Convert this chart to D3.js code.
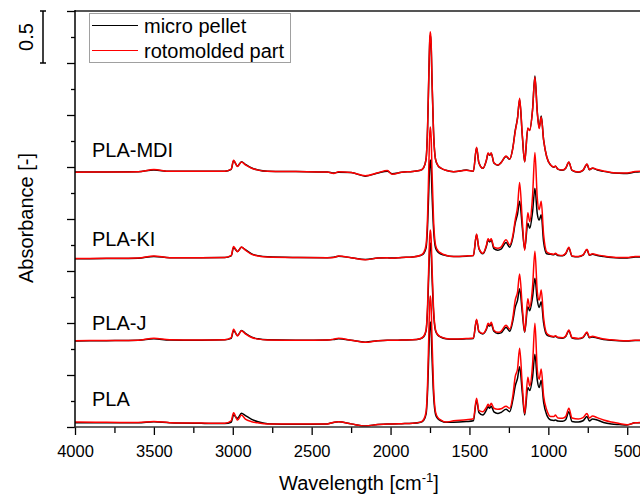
<!DOCTYPE html>
<html><head><meta charset="utf-8">
<script src="https://cdn.jsdelivr.net/npm/d3@7"></script>
<style>
body{margin:0;background:#fff}
svg text{font-family:"Liberation Sans",Arial,sans-serif;fill:#000}
</style>
</head><body>
<svg id="c" width="640" height="497"></svg>
<script>
// wavenumber grid (cm^-1), shared by all spectra
const wavenumbers = [4000,3800,3600,3500,3400,3200,3050,3010,2995,2970,2945,2920,2880,2840,2780,2600,2400,2360,2330,2250,2160,2080,2020,1990,1930,1860,1810,1790,1775,1765,1757,1752,1748,1743,1737,1728,1715,1700,1680,1650,1600,1520,1475,1455,1440,1415,1392,1382,1372,1362,1345,1320,1300,1268,1245,1225,1210,1195,1182,1165,1150,1130,1118,1100,1085,1070,1058,1045,1030,1010,985,965,955,940,910,890,870,850,810,780,755,740,720,690,650,600,550,500,450,400];

const plaPellet = [0.040,0.040,0.040,0.050,0.040, 0.035,0.033,0.045,0.115,0.083, 0.132,0.110,0.074,0.050,0.032, 0.027,0.030,0.044,0.050,0.030, 0.010,0.025,0.030,0.030,0.032, 0.035,0.045,0.064,0.123,0.357, 0.737,0.952,1.010,0.942,0.669, 0.328,0.123,0.079,0.059,0.045, 0.045,0.052,0.060,0.260,0.140, 0.115,0.165,0.195,0.180,0.200, 0.145,0.130,0.140,0.170,0.147, 0.260,0.394,0.470,0.580,0.330, 0.115,0.380,0.350,0.480,0.700, 0.450,0.380,0.450,0.240,0.115, 0.067,0.063,0.067,0.058,0.055, 0.070,0.147,0.053,0.048,0.060, 0.100,0.058,0.077,0.067,0.043, 0.029,0.024,0.020,0.040,0.040];
const plaRoto = [0.048,0.045,0.044,0.052,0.042, 0.038,0.035,0.060,0.137,0.067, 0.115,0.075,0.051,0.040,0.030, 0.028,0.030,0.045,0.050,0.030, 0.010,0.025,0.030,0.030,0.032, 0.035,0.047,0.072,0.145,0.439, 0.917,1.187,1.260,1.174,0.831, 0.403,0.145,0.090,0.066,0.047, 0.060,0.070,0.080,0.276,0.160, 0.147,0.190,0.218,0.200,0.228, 0.180,0.170,0.175,0.200,0.180, 0.300,0.484,0.560,0.757,0.400, 0.130,0.478,0.394,0.600,0.997, 0.550,0.458,0.557,0.300,0.163, 0.100,0.100,0.115,0.087,0.085, 0.100,0.180,0.087,0.077,0.090, 0.130,0.087,0.106,0.090,0.067, 0.048,0.034,0.022,0.040,0.045];
const jPellet = [0.028,0.030,0.033,0.048,0.036, 0.035,0.038,0.052,0.128,0.080, 0.128,0.100,0.064,0.048,0.038, 0.035,0.036,0.042,0.048,0.034, 0.016,0.030,0.035,0.033,0.036, 0.038,0.049,0.068,0.124,0.347, 0.710,0.914,0.970,0.905,0.645, 0.319,0.124,0.082,0.063,0.049, 0.043,0.048,0.052,0.230,0.115, 0.095,0.140,0.180,0.170,0.190, 0.120,0.100,0.105,0.160,0.120, 0.220,0.350,0.420,0.530,0.300, 0.110,0.357,0.318,0.450,0.630, 0.420,0.350,0.405,0.200,0.085, 0.070,0.066,0.072,0.058,0.054, 0.070,0.126,0.056,0.048,0.060, 0.106,0.058,0.066,0.055,0.042, 0.034,0.029,0.027,0.032,0.032];
const jRoto = [0.030,0.032,0.035,0.053,0.038, 0.037,0.040,0.060,0.139,0.075, 0.126,0.095,0.060,0.045,0.037, 0.035,0.036,0.045,0.053,0.035, 0.014,0.030,0.035,0.033,0.036, 0.038,0.051,0.072,0.135,0.388, 0.799,1.031,1.094,1.020,0.725, 0.356,0.135,0.087,0.066,0.051, 0.045,0.050,0.055,0.235,0.120, 0.100,0.150,0.197,0.180,0.207, 0.130,0.110,0.120,0.178,0.142, 0.250,0.420,0.500,0.670,0.350, 0.116,0.433,0.350,0.550,0.890, 0.500,0.420,0.517,0.250,0.100, 0.075,0.070,0.078,0.062,0.058, 0.075,0.133,0.060,0.052,0.065, 0.113,0.063,0.072,0.060,0.046, 0.038,0.032,0.030,0.035,0.035];
const kiPellet = [0.018,0.020,0.023,0.040,0.027, 0.027,0.029,0.045,0.125,0.088, 0.128,0.105,0.065,0.048,0.036, 0.030,0.028,0.032,0.042,0.028, 0.010,0.025,0.028,0.024,0.030, 0.035,0.049,0.068,0.123,0.346, 0.707,0.911,0.967,0.902,0.643, 0.318,0.123,0.082,0.063,0.049, 0.040,0.043,0.048,0.250,0.115, 0.065,0.140,0.200,0.180,0.200, 0.115,0.100,0.110,0.175,0.128, 0.220,0.360,0.450,0.570,0.320, 0.110,0.360,0.310,0.470,0.695, 0.450,0.390,0.440,0.180,0.065, 0.060,0.056,0.065,0.050,0.046, 0.066,0.122,0.042,0.037,0.052, 0.105,0.052,0.060,0.050,0.040, 0.030,0.026,0.026,0.035,0.036];
const kiRoto = [0.020,0.022,0.025,0.045,0.028, 0.028,0.030,0.050,0.135,0.086, 0.130,0.100,0.060,0.045,0.035, 0.030,0.028,0.030,0.045,0.028, 0.008,0.025,0.028,0.022,0.030, 0.035,0.052,0.077,0.152,0.451, 0.936,1.210,1.285,1.198,0.849, 0.414,0.152,0.096,0.071,0.052, 0.040,0.045,0.050,0.256,0.120, 0.070,0.150,0.210,0.190,0.210, 0.130,0.118,0.130,0.200,0.150, 0.240,0.390,0.520,0.750,0.380, 0.100,0.460,0.375,0.620,1.040, 0.600,0.490,0.570,0.250,0.083, 0.065,0.060,0.070,0.055,0.050, 0.070,0.128,0.045,0.040,0.055, 0.110,0.055,0.065,0.055,0.045, 0.035,0.030,0.030,0.040,0.040];
const mdiPellet = [0.052,0.053,0.055,0.072,0.058, 0.058,0.060,0.078,0.160,0.108, 0.150,0.125,0.090,0.072,0.060, 0.056,0.052,0.042,0.050,0.046, 0.012,0.042,0.060,0.035,0.050, 0.057,0.068,0.094,0.173,0.489, 1.002,1.291,1.370,1.278,0.910, 0.450,0.173,0.114,0.088,0.068, 0.055,0.070,0.060,0.285,0.140, 0.087,0.168,0.230,0.212,0.232, 0.138,0.118,0.142,0.200,0.175, 0.285,0.450,0.575,0.750,0.400, 0.150,0.470,0.455,0.650,0.975, 0.630,0.480,0.590,0.360,0.196, 0.118,0.098,0.108,0.080,0.068, 0.088,0.145,0.068,0.050,0.068, 0.126,0.074,0.088,0.072,0.058, 0.045,0.040,0.038,0.052,0.056];
const mdiRoto = [0.050,0.052,0.055,0.075,0.058, 0.058,0.060,0.080,0.165,0.105, 0.148,0.120,0.088,0.070,0.060, 0.056,0.052,0.038,0.055,0.048, 0.015,0.045,0.066,0.030,0.050, 0.057,0.068,0.095,0.176,0.499, 1.023,1.319,1.400,1.306,0.929, 0.459,0.176,0.116,0.089,0.068, 0.055,0.068,0.060,0.290,0.140, 0.087,0.170,0.235,0.215,0.235, 0.140,0.120,0.140,0.205,0.177, 0.280,0.440,0.570,0.760,0.410, 0.150,0.475,0.450,0.650,0.965, 0.620,0.470,0.580,0.360,0.196, 0.120,0.100,0.110,0.080,0.070, 0.090,0.148,0.070,0.052,0.070, 0.130,0.076,0.090,0.076,0.062, 0.047,0.042,0.042,0.057,0.060];

const sampleNames = ["PLA", "PLA-J", "PLA-KI", "PLA-MDI"];
const sampleOffsets = [0, 0.8, 1.6, 2.4];
const legendLabels = ["micro pellet", "rotomolded part"];
const seriesColors = ["#000000", "#ff0000"];
const xMajorTicks = [4000, 3500, 3000, 2500, 2000, 1500, 1000, 500];
const xMinorTicks = [3750, 3250, 2750, 2250, 1750, 1250, 750];
const yMajorTicks = [0, 0.5, 1, 1.5, 2, 2.5, 3, 3.5, 4];
const yMinorTicks = [0.25, 0.75, 1.25, 1.75, 2.25, 2.75, 3.25, 3.75];
const scaleBarValue = 0.5;
const xTitle = "Wavelength [cm";
const yTitle = "Absorbance [-]";

// ---------- layout ----------
const L = 75, R = 643, T = 11, B = 427;
const svg = d3.select("#c");
const x = d3.scaleLinear().domain([4000, 400]).range([L, R]);
const y = d3.scaleLinear().domain([0, 4]).range([B, T]);

svg.append("defs").append("clipPath").attr("id", "clip")
  .append("rect").attr("x", L).attr("y", T).attr("width", 640 - L).attr("height", B - T);

const pellets = [plaPellet, jPellet, kiPellet, mdiPellet];
const rotos = [plaRoto, jRoto, kiRoto, mdiRoto];

const plot = svg.append("g").attr("clip-path", "url(#clip)");
function lineFor(offset) {
  return d3.line()
    .x((d, i) => x(wavenumbers[i]))
    .y(d => y(d + offset))
    .curve(d3.curveMonotoneX);
}
[pellets, rotos].forEach((group, gi) => {
  group.forEach((vals, si) => {
    plot.append("path").datum(vals)
      .attr("d", lineFor(sampleOffsets[si]))
      .attr("fill", "none")
      .attr("stroke", seriesColors[gi])
      .attr("stroke-width", 1.5)
      .attr("stroke-linejoin", "round");
  });
});

// axes
const axFont = g => g.attr("font-family", "Liberation Sans, Arial, sans-serif");
const gxMinor = svg.append("g").attr("transform", `translate(0,${B})`)
  .call(d3.axisBottom(x).tickValues(xMinorTicks).tickSize(6).tickFormat(""));
const gxMajor = svg.append("g").attr("transform", `translate(0,${B})`)
  .call(d3.axisBottom(x).tickValues(xMajorTicks).tickSize(8).tickPadding(10).tickFormat(d3.format("d")))
  .call(axFont);
gxMajor.selectAll("text").attr("font-size", 16.5).attr("fill", "#000");
const gyMinor = svg.append("g").attr("transform", `translate(${L},0)`)
  .call(d3.axisLeft(y).tickValues(yMinorTicks).tickSize(4).tickFormat(""));
const gyMajor = svg.append("g").attr("transform", `translate(${L},0)`)
  .call(d3.axisLeft(y).tickValues(yMajorTicks).tickSize(8).tickFormat(""));
[gxMinor, gxMajor, gyMinor, gyMajor].forEach(g => {
  g.select(".domain").remove();
  g.selectAll(".tick line").attr("stroke", "#000").attr("stroke-width", 1.3);
});

// frame lines
svg.append("line").attr("x1", L).attr("x2", 640).attr("y1", T).attr("y2", T)
  .attr("stroke", "#555").attr("stroke-width", 2);
svg.append("line").attr("x1", L).attr("x2", L).attr("y1", T - 1).attr("y2", B + 0.5)
  .attr("stroke", "#000").attr("stroke-width", 1.5);
svg.append("line").attr("x1", L - 0.75).attr("x2", 640).attr("y1", B).attr("y2", B)
  .attr("stroke", "#333").attr("stroke-width", 1.5);

// sample labels
const labelBaselines = [406, 330, 246, 157];
sampleNames.forEach((n, i) => {
  svg.append("text").attr("x", 92).attr("y", labelBaselines[i])
    .attr("font-size", 20).text(n);
});

// legend
const lg = svg.append("g");
lg.append("rect").attr("x", 89.5).attr("y", 13.5).attr("width", 201).attr("height", 49)
  .attr("fill", "#fff").attr("stroke", "#a0a0a0").attr("stroke-width", 1);
legendLabels.forEach((t, i) => {
  const yy = 25.5 + i * 25;
  lg.append("line").attr("x1", 92).attr("x2", 138).attr("y1", yy).attr("y2", yy)
    .attr("stroke", seriesColors[i]).attr("stroke-width", 1.2);
  lg.append("text").attr("x", 144).attr("y", yy + 7.5).attr("font-size", 20).text(t);
});

// scale bar
const sbTop = y(4), sbBot = y(4 - scaleBarValue);
svg.append("line").attr("x1", 43).attr("x2", 43).attr("y1", sbTop).attr("y2", sbBot)
  .attr("stroke", "#000").attr("stroke-width", 1.5);
[sbTop, sbBot].forEach(v => svg.append("line").attr("x1", 40).attr("x2", 46)
  .attr("y1", v).attr("y2", v).attr("stroke", "#000").attr("stroke-width", 1.5));
svg.append("text").attr("transform", `translate(33,${(sbTop + sbBot) / 2}) rotate(-90)`)
  .attr("text-anchor", "middle").attr("font-size", 20).text(scaleBarValue);

// axis titles
const xt = svg.append("text").attr("x", 359).attr("y", 490).attr("text-anchor", "middle").attr("font-size", 20);
xt.append("tspan").text(xTitle);
xt.append("tspan").attr("dy", -8).attr("font-size", 13).text("-1");
xt.append("tspan").attr("dy", 8).text("]");
svg.append("text").attr("transform", "translate(33,218) rotate(-90)")
  .attr("text-anchor", "middle").attr("font-size", 20).text(yTitle);
</script>
</body></html>
